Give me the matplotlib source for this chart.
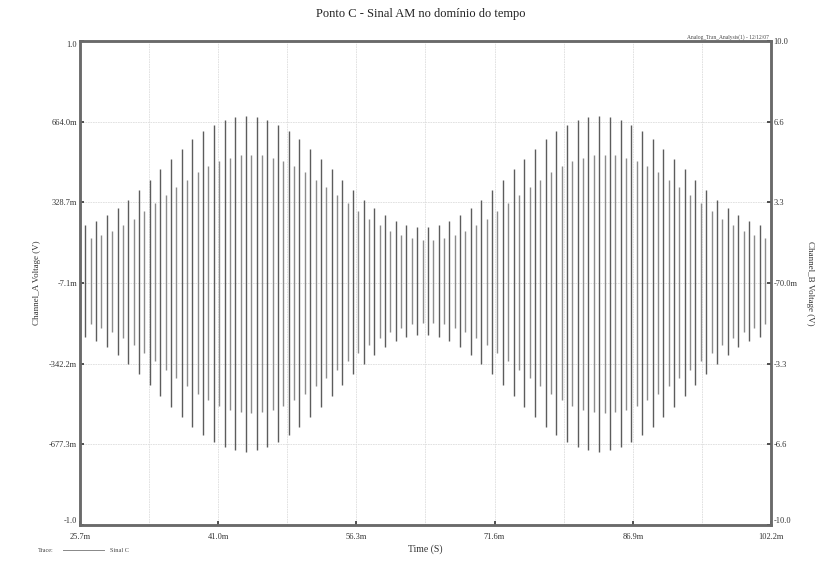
import numpy as np
import matplotlib
matplotlib.use("Agg")
import matplotlib.pyplot as plt

plt.rcParams['font.family'] = ['Liberation Serif', 'DejaVu Serif']

# time axis (ms) and labels
t_min, t_max = 25.7, 102.2
x_tick_labels = ["25.7m", "41.0m", "56.3m", "71.6m", "86.9m", "102.2m"]
t_first_cycle = 26.3
carrier_period = 1.185

# channel A, per carrier cycle: outer peaks, inner (aliased) peaks, troughs (V)
peaks = [0.239, 0.256, 0.279, 0.309, 0.345, 0.385, 0.427, 0.471, 0.514, 0.555,
         0.593, 0.627, 0.653, 0.673, 0.686, 0.690, 0.686, 0.673, 0.653, 0.627,
         0.593, 0.555, 0.514, 0.471, 0.427, 0.385, 0.345, 0.309, 0.279, 0.256,
         0.239, 0.231, 0.231, 0.239, 0.256, 0.279, 0.309, 0.345, 0.385, 0.427,
         0.471, 0.514, 0.555, 0.593, 0.627, 0.653, 0.673, 0.686, 0.690, 0.686,
         0.673, 0.653, 0.627, 0.593, 0.555, 0.514, 0.471, 0.427, 0.385, 0.345,
         0.309, 0.279, 0.256, 0.239]
inner = [0.184, 0.197, 0.215, 0.238, 0.266, 0.296, 0.329, 0.363, 0.396, 0.427,
         0.457, 0.483, 0.503, 0.518, 0.528, 0.531, 0.528, 0.518, 0.503, 0.483,
         0.457, 0.427, 0.396, 0.363, 0.329, 0.296, 0.266, 0.238, 0.215, 0.197,
         0.184, 0.178, 0.178, 0.184, 0.197, 0.215, 0.238, 0.266, 0.296, 0.329,
         0.363, 0.396, 0.427, 0.457, 0.483, 0.503, 0.518, 0.528, 0.531, 0.528,
         0.518, 0.503, 0.483, 0.457, 0.427, 0.396, 0.363, 0.329, 0.296, 0.266,
         0.238, 0.215, 0.197, 0.184]
troughs = [-0.222, -0.240, -0.265, -0.297, -0.335, -0.377, -0.421, -0.467, -0.512, -0.555,
           -0.595, -0.630, -0.658, -0.679, -0.692, -0.697, -0.692, -0.679, -0.658, -0.630,
           -0.595, -0.555, -0.512, -0.467, -0.421, -0.377, -0.335, -0.297, -0.265, -0.240,
           -0.222, -0.214, -0.214, -0.222, -0.240, -0.265, -0.297, -0.335, -0.377, -0.421,
           -0.467, -0.512, -0.555, -0.595, -0.630, -0.658, -0.679, -0.692, -0.697, -0.692,
           -0.679, -0.658, -0.630, -0.595, -0.555, -0.512, -0.467, -0.421, -0.377, -0.335,
           -0.297, -0.265, -0.240, -0.222]
inner_troughs = [-0.170, -0.185, -0.204, -0.229, -0.258, -0.290, -0.324, -0.359, -0.394, -0.427,
                 -0.458, -0.485, -0.507, -0.523, -0.533, -0.537, -0.533, -0.523, -0.507, -0.485,
                 -0.458, -0.427, -0.394, -0.359, -0.324, -0.290, -0.258, -0.229, -0.204, -0.185,
                 -0.170, -0.165, -0.165, -0.170, -0.185, -0.204, -0.229, -0.258, -0.290, -0.324,
                 -0.359, -0.394, -0.427, -0.458, -0.485, -0.507, -0.523, -0.533, -0.537, -0.533,
                 -0.523, -0.507, -0.485, -0.458, -0.427, -0.394, -0.359, -0.324, -0.290, -0.258,
                 -0.229, -0.204, -0.185, -0.170]

left_labels = ["-1.0", "-677.3m", "-342.2m", "-7.1m", "328.7m", "664.0m", "1.0"]
right_labels = ["-10.0", "-6.6", "-3.3", "-70.0m", "3.3", "6.6", "10.0"]

t = t_first_cycle + carrier_period * np.arange(len(peaks))
t_half = t + carrier_period / 2

fig = plt.figure(figsize=(8.34, 5.61), dpi=100)
ax = fig.add_axes([0.0959, 0.0642, 0.8285, 0.8627])

grid_c = '#dddddd'
for v in np.linspace(t_min, t_max, 11):
    ax.axvline(v, color=grid_c, lw=0.6, ls=(0, (2, 1)), zorder=0)
for v in np.linspace(-1.0, 1.0, 7):
    ax.axhline(v, color=grid_c, lw=0.6, ls=(0, (2, 1)), zorder=0)

# signal: one stroke per carrier cycle plus the lighter aliased strokes
ax.vlines(t_half, inner_troughs, inner, color='#8c8c8c', lw=1.0, zorder=2)
ax.vlines(t, troughs, peaks, color='#5c5c5c', lw=1.0, zorder=3)

ax.set_xlim(t_min, t_max)
ax.set_ylim(-1.0, 1.0)
ax.set_xticks(np.linspace(t_min, t_max, 6))
ax.set_xticklabels(x_tick_labels, fontsize=6)
ax.set_yticks(np.linspace(-1.0, 1.0, 7))
ax.set_yticklabels(left_labels, fontsize=6)
ax.tick_params(direction='in', length=3, width=1.2, colors='#333333', pad=2)
ax.tick_params(axis='x', pad=6)

for s in ax.spines.values():
    s.set_color('#6a6a6a')
    s.set_linewidth(1.8)

ax2 = ax.twinx()
ax2.set_ylim(-10.0, 10.0)
ax2.set_yticks(np.linspace(-10.0, 10.0, 7))
ax2.set_yticklabels(right_labels, fontsize=6)
ax2.tick_params(direction='in', length=3, width=1.2, colors='#333333', pad=2)
for s in ax2.spines.values():
    s.set_color('#6a6a6a')
    s.set_linewidth(1.8)

# keep the corner labels clear of the time labels
ax.get_yticklabels()[0].set_verticalalignment('bottom')
ax2.get_yticklabels()[0].set_verticalalignment('bottom')
ax.get_yticklabels()[-1].set_verticalalignment('top')

ax.set_ylabel("Channel_A Voltage (V)", fontsize=6.5, color='#333333', labelpad=6)
ax2.set_ylabel("Channel_B Voltage (V)", fontsize=6.5, color='#333333', rotation=270, labelpad=12)
ax.set_xlabel("Time (S)", fontsize=7, color='#333333', labelpad=2)

fig.text(0.505, 0.975, "Ponto C - Sinal AM no domínio do tempo", ha='center', va='center',
         fontsize=9, color='#222222')
fig.text(0.922, 0.934, "Analog_Tran_Analysis(1) - 12/12/07", ha='right', va='center',
         fontsize=4, color='#444444')

# trace legend at bottom left
fig.text(0.045, 0.018, "Trace:", ha='left', va='center', fontsize=4.5, color='#444444')
fig.add_artist(plt.Line2D([0.075, 0.125], [0.019, 0.019], color='#888888', lw=0.7))
fig.text(0.132, 0.018, "Sinal C", ha='left', va='center', fontsize=4.5, color='#444444')

fig.savefig("out.png", dpi=100)
